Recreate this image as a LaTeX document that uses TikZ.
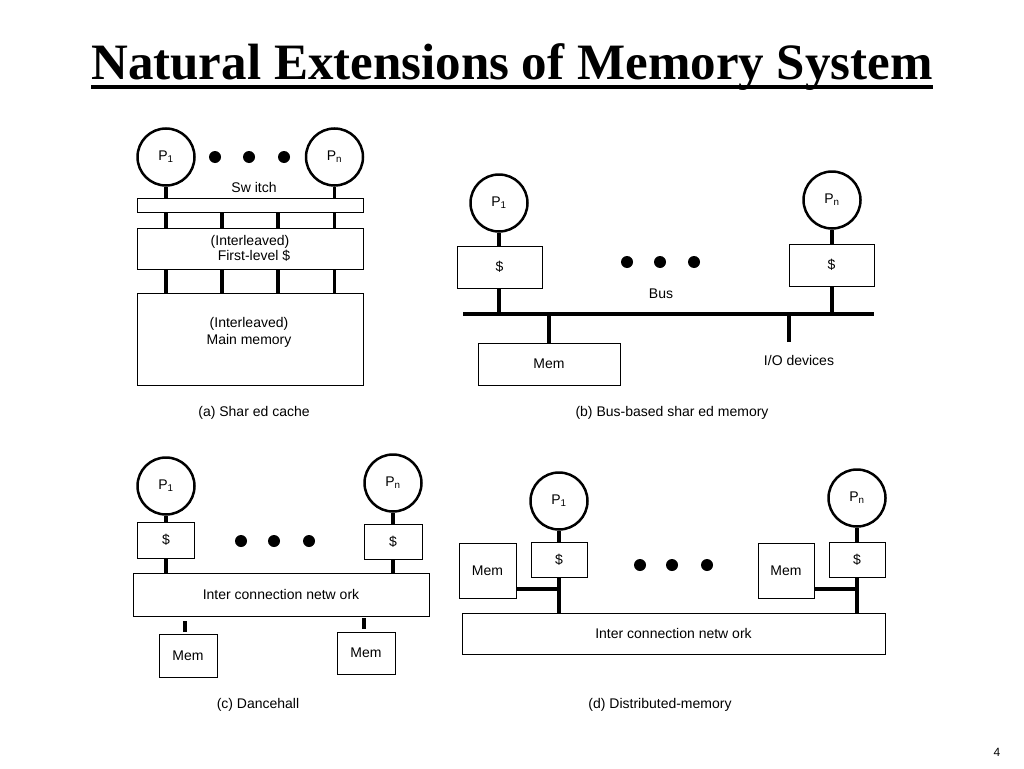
\documentclass[tikz,border=0pt]{standalone}
\usepackage{fontspec}
\setmainfont{Liberation Sans}
\newfontfamily\titleface{Liberation Serif}
\begin{document}
\begin{tikzpicture}[x=1pt,y=-1pt,
  proc/.style={circle,draw,line width=2.5pt,minimum size=57pt,inner sep=0pt,font=\fontsize{14}{14}\selectfont},
  bx/.style={draw,line width=0.9pt,inner sep=0pt,font=\fontsize{14}{14}\selectfont,align=center},
  conn/.style={line width=3.2pt},
  blob/.style={circle,fill,minimum size=12pt,inner sep=0pt},
  lbl/.style={inner sep=0pt,font=\fontsize{14}{14}\selectfont},
]
\useasboundingbox (0,0) rectangle (1024,768);

% title
\node[inner sep=0pt,anchor=base,font=\titleface\bfseries\fontsize{51}{51}\selectfont] (title) at (512,79) {Natural Extensions of Memory System};
\draw[line width=4pt] ([yshift=-8pt]title.base west) -- ([yshift=-8pt]title.base east);

% ---------- (a) shared cache
\node[proc] (P1a) at (166,157) {P\textsubscript{1}};
\node[proc] (Pna) at (334.5,157) {P\textsubscript{n}};
\node[blob] (da1) at (215,157) {};
\node[blob] (da2) at (249,157) {};
\node[blob] (da3) at (284,157) {};
\node[lbl] (swl) at (254,187) {Sw itch};
\node[bx,minimum width=226pt,minimum height=14pt] (sw) at (250,205.5) {};
\node[bx,minimum width=226pt,minimum height=41pt,font=\fontsize{14}{12}\selectfont] (ca) at (250,248.5) {(Interleaved)\\\hspace*{8pt}First-level \$};
\node[bx,minimum width=226pt,minimum height=92pt] (mm) at (250,339) {};
\node[lbl,align=center,font=\fontsize{14}{17}\selectfont] (mmt) at (249,332) {(Interleaved)\\Main memory};
\coordinate (c1) at (166,0);
\coordinate (c2) at (222,0);
\coordinate (c3) at (278,0);
\coordinate (c4) at (334.5,0);
\draw[conn] (P1a.south) -- (sw.north -| P1a);
\draw[conn] (Pna.south) -- (sw.north -| Pna);
\foreach \c in {c1,c2,c3,c4}{
  \draw[conn] (sw.south -| \c) -- (ca.north -| \c);
  \draw[conn] (ca.south -| \c) -- (mm.north -| \c);
}
\node[lbl] (capa) at (254,413) {(a) Shar ed cache};

% ---------- (b) bus-based
\node[proc] (P1b) at (499,203) {P\textsubscript{1}};
\node[proc] (Pnb) at (832,200) {P\textsubscript{n}};
\node[bx,minimum width=85pt,minimum height=42pt] (cb1) at (499.5,267) {\$};
\node[bx,minimum width=85pt,minimum height=42pt] (cbn) at (831.5,265) {\$};
\node[blob] (db1) at (627,262) {};
\node[blob] (db2) at (660,262) {};
\node[blob] (db3) at (694,262) {};
\node[lbl] (busl) at (661,294) {Bus};
\coordinate (busL) at (463,314);
\coordinate (busR) at (874,314);
\draw[conn] (busL) -- (busR);
\node[bx,minimum width=142pt,minimum height=42pt] (memb) at (549,364) {Mem};
\coordinate (io) at (789,342);
\node[lbl] (iol) at (799,360) {I/O devices};
\draw[conn] (P1b.south) -- (cb1.north -| P1b);
\draw[conn] (cb1.south -| P1b) -- (busL -| P1b);
\draw[conn] (Pnb.south) -- (cbn.north -| Pnb);
\draw[conn] (cbn.south -| Pnb) -- (busL -| Pnb);
\draw[conn] (memb.north) -- (busL -| memb);
\draw[conn] (io) -- (busL -| io);
\node[lbl] (capb) at (672,413) {(b) Bus-based shar ed memory};

% ---------- (c) dancehall
\node[proc] (P1c) at (166,486) {P\textsubscript{1}};
\node[proc] (Pnc) at (393,483) {P\textsubscript{n}};
\node[bx,minimum width=57pt,minimum height=36pt] (cc1) at (166,540) {\$};
\node[bx,minimum width=58pt,minimum height=35pt] (ccn) at (393,541.5) {\$};
\node[blob] (dc1) at (241,541) {};
\node[blob] (dc2) at (274,541) {};
\node[blob] (dc3) at (309,541) {};
\node[bx,minimum width=296pt,minimum height=43pt] (netc) at (281,594.5) {Inter connection netw ork};
\node[bx,minimum width=58pt,minimum height=43pt] (mc1) at (188,655.5) {Mem};
\node[bx,minimum width=58pt,minimum height=42pt] (mcn) at (366,653) {Mem};
\draw[conn] (P1c.south) -- (cc1.north -| P1c);
\draw[conn] (cc1.south -| P1c) -- (netc.north -| P1c);
\draw[conn] (Pnc.south) -- (ccn.north -| Pnc);
\draw[conn] (ccn.south -| Pnc) -- (netc.north -| Pnc);
\coordinate (s1) at (185,621);
\coordinate (s2) at (364,618);
\draw[conn] (s1) -- ++(0,11);
\draw[conn] (s2) -- ++(0,11);
\node[lbl] (capc) at (258,705) {(c) Dancehall};

% ---------- (d) distributed memory
\node[proc] (P1d) at (559,501) {P\textsubscript{1}};
\node[proc] (Pnd) at (857,498) {P\textsubscript{n}};
\node[bx,minimum width=56pt,minimum height=35pt] (cd1) at (559,559.5) {\$};
\node[bx,minimum width=56pt,minimum height=35pt] (cdn) at (857,559.5) {\$};
\node[bx,minimum width=57pt,minimum height=55pt] (md1) at (487.5,570.5) {Mem};
\node[bx,minimum width=56pt,minimum height=55pt] (mdn) at (786,570.5) {Mem};
\node[bx,minimum width=423pt,minimum height=41pt] (netd) at (673.5,633.5) {Inter connection netw ork};
\node[blob] (dd1) at (640,565) {};
\node[blob] (dd2) at (672,565) {};
\node[blob] (dd3) at (707,565) {};
\coordinate (j1) at (559,589);
\coordinate (jn) at (857,589);
\draw[conn] (P1d.south) -- (cd1.north -| P1d);
\draw[conn] (cd1.south -| P1d) -- (netd.north -| P1d);
\draw[conn] (Pnd.south) -- (cdn.north -| Pnd);
\draw[conn] (cdn.south -| Pnd) -- (netd.north -| Pnd);
\draw[conn] (md1.east |- j1) -- (j1);
\draw[conn] (mdn.east |- jn) -- (jn);
\node[lbl] (capd) at (660,705) {(d) Distributed-memory};

\node[inner sep=0pt,font=\fontsize{12}{12}\selectfont] (pg) at (997,752) {4};
\end{tikzpicture}
\end{document}
